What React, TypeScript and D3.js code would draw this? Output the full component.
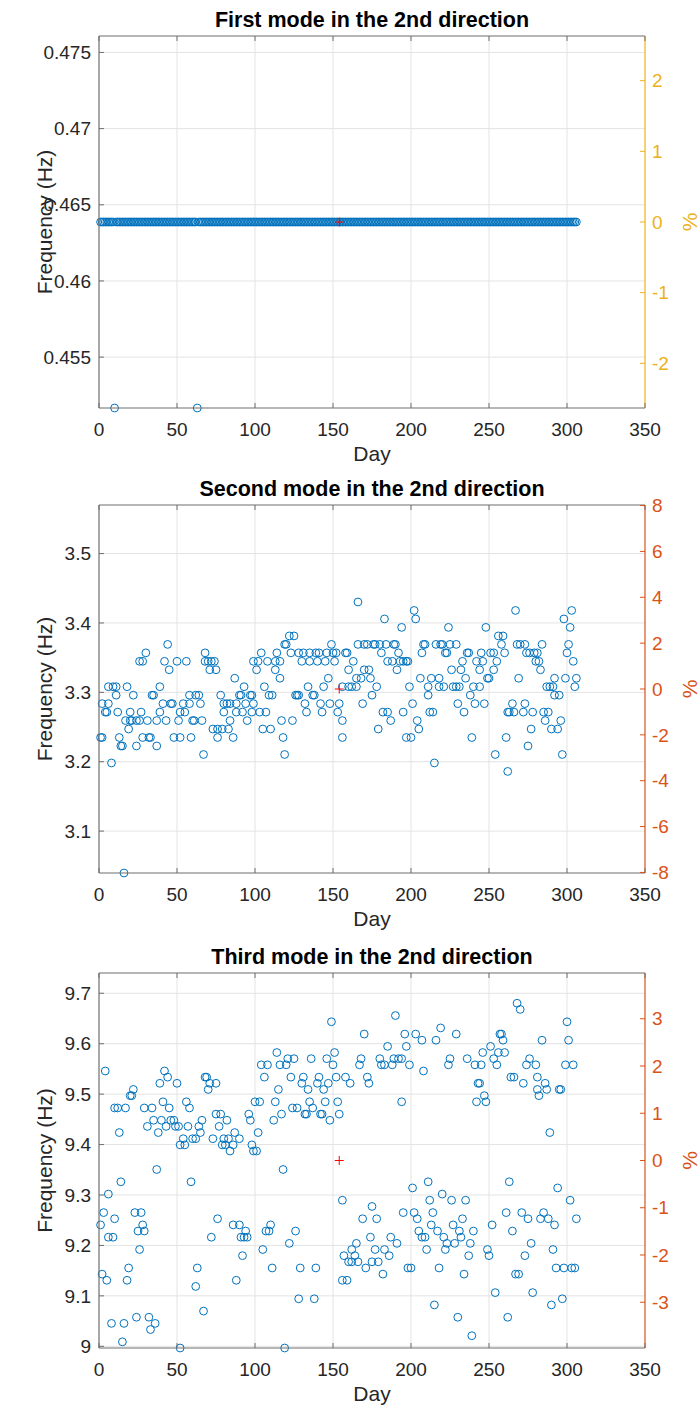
import React from "react";
import * as d3 from "d3";

// Frequency levels are FFT bins (about 0.0122 Hz apart); each entry is [frequency in Hz, days observed at it].
type Level = [number, number[]];

const dayTicks = [0, 50, 100, 150, 200, 250, 300, 350];
const refDay = 154;

// Mode 1: a single steady level (given as runs of consecutive days) plus two low readings.
const mode1Ref = 0.46387;
const mode1Runs: [number, number][] = [[1, 9], [11, 62], [64, 306]];
const mode1Low: Level = [0.45166, [10, 63]];
const mode1Ticks = [0.455, 0.46, 0.465, 0.47, 0.475];
const mode1PctTicks = [-2, -1, 0, 1, 2];

// Mode 2
const mode2Ref = 3.3048;
const mode2Levels: Level[] = [
  [3.4302, [166]],
  [3.418, [202, 267, 303]],
  [3.4058, [183, 203, 298]],
  [3.3936, [194, 224, 248, 302]],
  [3.3813, [122, 125, 256, 259]],
  [3.3691, [44, 119, 120, 149, 166, 170, 172, 176, 177, 180, 184, 189, 190, 208, 209, 216, 219, 220, 225, 229, 258, 268, 270, 273, 284, 301]],
  [3.3569, [30, 68, 104, 114, 123, 128, 131, 135, 139, 141, 146, 150, 152, 158, 159, 181, 192, 207, 222, 223, 236, 237, 245, 251, 253, 260, 274, 276, 279, 281, 300]],
  [3.3447, [26, 28, 42, 50, 56, 68, 70, 72, 74, 99, 102, 108, 113, 116, 130, 135, 140, 145, 151, 163, 185, 188, 193, 195, 197, 198, 233, 242, 246, 255, 280, 282, 304]],
  [3.3325, [45, 71, 75, 101, 113, 160, 170, 173, 191, 226, 232, 244, 253, 283]],
  [3.3203, [87, 116, 147, 165, 168, 174, 206, 213, 218, 235, 249, 250, 269, 292, 299, 306]],
  [3.3081, [6, 9, 11, 18, 39, 93, 106, 134, 144, 156, 160, 162, 165, 178, 199, 211, 218, 221, 227, 229, 231, 240, 244, 287, 289, 291, 305]],
  [3.2959, [11, 22, 34, 35, 58, 62, 64, 78, 90, 91, 97, 98, 109, 111, 126, 127, 128, 137, 138, 175, 211, 238, 292, 295]],
  [3.2837, [2, 6, 41, 46, 47, 54, 58, 65, 80, 82, 84, 88, 94, 99, 132, 142, 148, 154, 169, 201, 230, 241, 247, 265, 273]],
  [3.2715, [4, 5, 12, 20, 27, 39, 52, 55, 80, 88, 92, 98, 103, 107, 133, 143, 153, 182, 185, 195, 212, 214, 234, 262, 263, 266, 272, 278, 285, 288]],
  [3.2593, [17, 20, 21, 24, 26, 31, 37, 43, 51, 60, 61, 66, 84, 95, 117, 124, 156, 187, 204, 286, 296]],
  [3.2471, [19, 73, 76, 79, 83, 105, 110, 179, 205, 277, 290, 294]],
  [3.2349, [1, 2, 13, 28, 32, 33, 48, 52, 59, 76, 86, 118, 156, 197, 200, 239, 261]],
  [3.2227, [14, 15, 24, 37, 275]],
  [3.2104, [67, 119, 254, 297]],
  [3.1982, [8, 215]],
  [3.186, [262]],
  [3.0396, [16]],
];
const mode2Ticks = [3.1, 3.2, 3.3, 3.4, 3.5];
const mode2PctTicks = [-8, -6, -4, -2, 0, 2, 4, 6, 8];

// Mode 3
const mode3Ref = 9.3684;
const mode3Levels: Level[] = [
  [9.6802, [268]],
  [9.668, [270]],
  [9.6558, [190]],
  [9.6435, [149, 300]],
  [9.6313, [219]],
  [9.6191, [170, 196, 203, 229, 257, 258]],
  [9.6069, [207, 216, 259, 284, 301]],
  [9.5947, [185, 197, 251]],
  [9.5825, [114, 151, 246, 256, 260]],
  [9.5703, [121, 125, 136, 146, 168, 180, 189, 192, 194, 225, 236, 253, 276]],
  [9.5581, [104, 108, 116, 120, 150, 167, 181, 183, 188, 199, 224, 241, 245, 255, 274, 280, 299, 304]],
  [9.5459, [4, 42, 208]],
  [9.5337, [44, 68, 69, 106, 123, 131, 141, 152, 158, 172, 264, 266, 281]],
  [9.5215, [39, 50, 71, 75, 130, 140, 147, 161, 173, 243, 244, 272, 286]],
  [9.5093, [22, 70, 115, 134, 144, 281, 287, 295, 296]],
  [9.497, [20, 21, 247, 282]],
  [9.4848, [41, 56, 100, 103, 113, 135, 145, 153, 194, 242, 248]],
  [9.4726, [10, 12, 17, 29, 34, 45, 58, 124, 127, 137]],
  [9.4604, [75, 78, 96, 117, 132, 133, 142, 143, 154]],
  [9.4482, [35, 40, 46, 48, 66, 82, 97, 112, 148]],
  [9.436, [31, 43, 49, 51, 57, 64, 77]],
  [9.4238, [13, 38, 65, 87, 102, 289]],
  [9.4116, [54, 60, 62, 73, 80, 83, 90]],
  [9.3994, [52, 55, 79, 81, 86, 98]],
  [9.3872, [84, 99, 101]],
  [9.3506, [37, 118]],
  [9.3262, [14, 59, 211, 263]],
  [9.314, [201, 294]],
  [9.3018, [6, 220]],
  [9.2896, [156, 212, 226, 235, 302]],
  [9.2773, [175]],
  [9.2651, [3, 23, 27, 195, 202, 214, 261, 271, 285]],
  [9.2529, [10, 76, 169, 178, 204, 233, 275, 283, 288, 306]],
  [9.2407, [1, 28, 86, 90, 110, 213, 227, 252, 292]],
  [9.2285, [25, 29, 94, 107, 109, 126, 205, 217, 231, 240, 265]],
  [9.2163, [6, 9, 72, 91, 93, 95, 174, 187, 207, 209, 221, 232]],
  [9.2041, [122, 165, 191, 223, 228, 238, 277]],
  [9.1919, [26, 105, 162, 177, 183, 210, 222, 249, 291]],
  [9.1797, [92, 157, 164, 186, 237, 250, 273]],
  [9.1675, [160, 162, 166, 175, 179]],
  [9.1553, [19, 63, 111, 129, 139, 171, 198, 200, 218, 293, 298, 303, 305]],
  [9.1431, [2, 182, 234, 267, 269]],
  [9.1309, [5, 18, 88, 156, 159]],
  [9.1187, [62]],
  [9.1064, [254, 278]],
  [9.0942, [128, 138, 297]],
  [9.082, [215, 290]],
  [9.0698, [67]],
  [9.0576, [24, 32, 230, 262]],
  [9.0454, [8, 16, 36]],
  [9.0332, [33]],
  [9.021, [239]],
  [9.0088, [15]],
  [8.9966, [52, 119]],
];
const mode3Ticks = [9, 9.1, 9.2, 9.3, 9.4, 9.5, 9.6, 9.7];
const mode3PctTicks = [-3, -2, -1, 0, 1, 2, 3];

const mode1Levels: Level[] = [
  [mode1Ref, mode1Runs.flatMap(([a, b]) => d3.range(a, b + 1))],
  mode1Low,
];

const FONT = "'Liberation Sans', Arial, Helvetica, sans-serif";
const AXIS = "#6e6e6e";
const TEXT = "#262626";
const GRID = "#e3e3e3";
const BLUE = "#0072BD";

const PLOT_LEFT = 99;
const PLOT_RIGHT = 645;
const x = d3.scaleLinear().domain([0, 350]).range([PLOT_LEFT, PLOT_RIGHT]);

interface PanelSpec {
  title: string;
  levels: Level[];
  ref: number;
  ticks: number[];
  pctTicks: number[];
  pctColor: string;
  top: number;
  bottom: number;
}

const panels: PanelSpec[] = [
  { title: "First mode in the 2nd direction", levels: mode1Levels, ref: mode1Ref, ticks: mode1Ticks, pctTicks: mode1PctTicks, pctColor: "#EDB120", top: 36, bottom: 408 },
  { title: "Second mode in the 2nd direction", levels: mode2Levels, ref: mode2Ref, ticks: mode2Ticks, pctTicks: mode2PctTicks, pctColor: "#D95319", top: 505, bottom: 873 },
  { title: "Third mode in the 2nd direction", levels: mode3Levels, ref: mode3Ref, ticks: mode3Ticks, pctTicks: mode3PctTicks, pctColor: "#D95319", top: 973, bottom: 1348 },
];

const fmt = d3.format("~g");

function Panel({ spec }: { spec: PanelSpec }) {
  const { levels, ref, top, bottom, pctColor } = spec;
  const freqs = levels.map((l) => l[0]);
  const fMin = d3.min(freqs) as number;
  // limits symmetric about the reference frequency
  const fMax = 2 * ref - fMin;
  const y = d3.scaleLinear().domain([fMin, fMax]).range([bottom, top]);
  const pct = d3
    .scaleLinear()
    .domain([(fMin / ref - 1) * 100, (fMax / ref - 1) * 100])
    .range([bottom, top]);
  const points = levels.flatMap(([f, days]) => days.map((d) => [d, f] as [number, number]));
  const midX = (PLOT_LEFT + PLOT_RIGHT) / 2;
  const midY = (top + bottom) / 2;
  const tk = 5;

  return (
    <g>
      {/* grid */}
      {dayTicks.slice(1, -1).map((d) => (
        <line key={"gx" + d} x1={x(d)} x2={x(d)} y1={top} y2={bottom} stroke={GRID} strokeWidth={1} />
      ))}
      {spec.ticks.map((t) => (
        <line key={"gy" + t} x1={PLOT_LEFT} x2={PLOT_RIGHT} y1={y(t)} y2={y(t)} stroke={GRID} strokeWidth={1} />
      ))}

      {/* data */}
      {points.map(([d, f], i) => (
        <circle key={i} cx={x(d)} cy={y(f)} r={3.9} fill="none" stroke={BLUE} strokeWidth={1} />
      ))}
      <g stroke="#FF0000" strokeWidth={1}>
        <line x1={x(refDay) - 4.5} x2={x(refDay) + 4.5} y1={y(ref)} y2={y(ref)} />
        <line x1={x(refDay)} x2={x(refDay)} y1={y(ref) - 4.5} y2={y(ref) + 4.5} />
      </g>

      {/* box */}
      <line x1={PLOT_LEFT} x2={PLOT_RIGHT} y1={top} y2={top} stroke={AXIS} strokeWidth={1.2} />
      <line x1={PLOT_LEFT} x2={PLOT_RIGHT} y1={bottom} y2={bottom} stroke={AXIS} strokeWidth={1.2} />
      <line x1={PLOT_LEFT} x2={PLOT_LEFT} y1={top} y2={bottom} stroke={AXIS} strokeWidth={1.2} />
      <line x1={PLOT_RIGHT} x2={PLOT_RIGHT} y1={top} y2={bottom} stroke={pctColor} strokeWidth={1.2} />

      {/* x ticks */}
      {dayTicks.map((d) => (
        <g key={"xt" + d}>
          <line x1={x(d)} x2={x(d)} y1={bottom} y2={bottom - tk} stroke={AXIS} />
          <line x1={x(d)} x2={x(d)} y1={top} y2={top + tk} stroke={AXIS} />
          <text x={x(d)} y={bottom + 28} textAnchor="middle" fontSize={19} fill={TEXT} fontFamily={FONT}>
            {d}
          </text>
        </g>
      ))}

      {/* left ticks */}
      {spec.ticks.map((t) => (
        <g key={"yt" + t}>
          <line x1={PLOT_LEFT} x2={PLOT_LEFT + tk} y1={y(t)} y2={y(t)} stroke={AXIS} />
          <text x={PLOT_LEFT - 8} y={y(t)} dy="0.35em" textAnchor="end" fontSize={19} fill={TEXT} fontFamily={FONT}>
            {fmt(t)}
          </text>
        </g>
      ))}

      {/* right percent ticks */}
      {spec.pctTicks.map((t) => (
        <g key={"pt" + t}>
          <line x1={PLOT_RIGHT} x2={PLOT_RIGHT - tk} y1={pct(t)} y2={pct(t)} stroke={pctColor} />
          <text x={PLOT_RIGHT + 7} y={pct(t)} dy="0.35em" textAnchor="start" fontSize={19} fill={pctColor} fontFamily={FONT}>
            {String(t)}
          </text>
        </g>
      ))}

      {/* labels */}
      <text x={midX} y={top - 9} textAnchor="middle" fontSize={21.5} fontWeight="bold" fill="#000" fontFamily={FONT}>
        {spec.title}
      </text>
      <text x={midX} y={bottom + 53} textAnchor="middle" fontSize={21} fill={TEXT} fontFamily={FONT}>
        Day
      </text>
      <text
        transform={`translate(52,${midY}) rotate(-90)`}
        textAnchor="middle"
        fontSize={21}
        fill={TEXT}
        fontFamily={FONT}
      >
        Frequency (Hz)
      </text>
      <text
        transform={`translate(697,${midY}) rotate(-90)`}
        textAnchor="middle"
        fontSize={21}
        fill={pctColor}
        fontFamily={FONT}
      >
        %
      </text>
    </g>
  );
}

export default function App() {
  return (
    <svg
      width={700}
      height={1411}
      viewBox="0 0 700 1411"
      style={{ position: "absolute", left: 0, top: 0, background: "#fff" }}
    >
      <rect width={700} height={1411} fill="#fff" />
      {panels.map((p) => (
        <Panel key={p.title} spec={p} />
      ))}
    </svg>
  );
}
